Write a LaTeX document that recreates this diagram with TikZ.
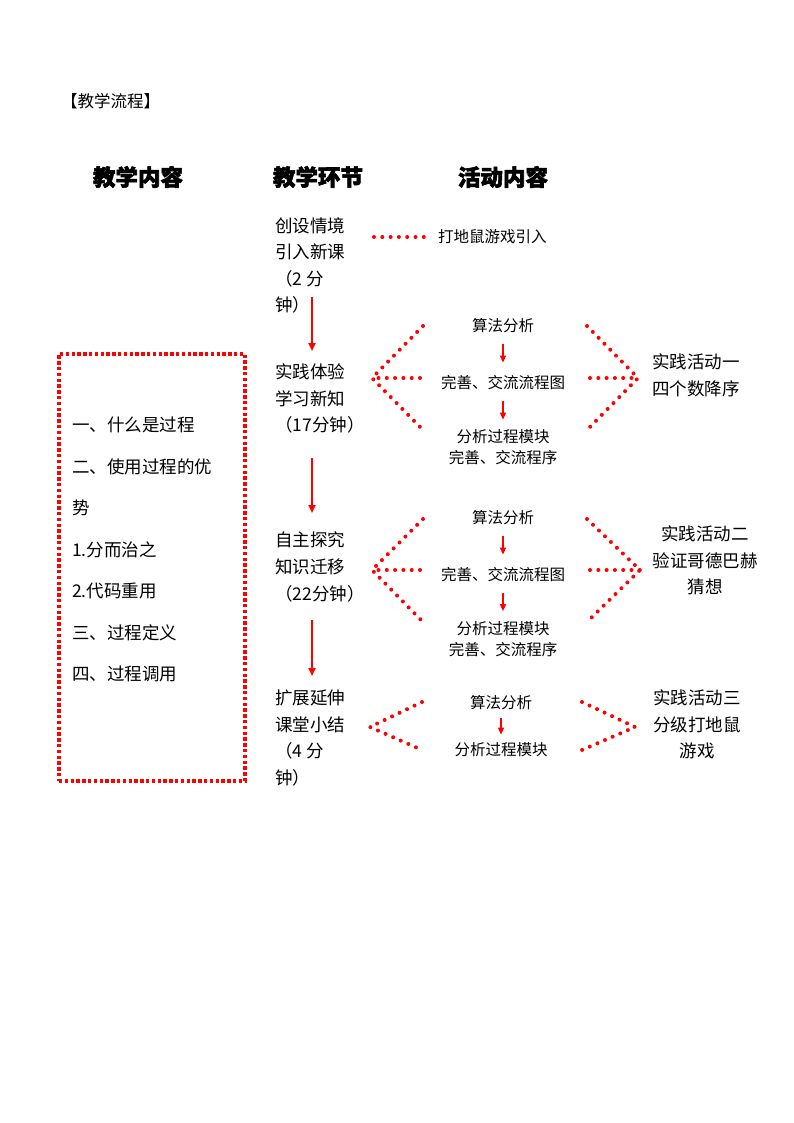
\documentclass[tikz,border=0pt]{standalone}
\usepackage{fontspec}
\newfontfamily\cjk{Noto Sans CJK SC}
\newfontfamily\cjkb{Noto Sans CJK SC}[FakeBold=2.5]
\usetikzlibrary{arrows.meta}
\begin{document}
\begin{tikzpicture}[x=1pt,y=-1pt,
  title/.style={font=\cjk\fontsize{16.5}{18}\selectfont, inner sep=0, anchor=west},
  head/.style={font=\cjkb\bfseries\fontsize{22.5}{26}\selectfont, inner sep=0},
  txt/.style={font=\cjk\fontsize{17.5}{26.6}\selectfont, inner sep=0, align=left, anchor=west},
  boxtxt/.style={font=\cjk\fontsize{17.5}{41.5}\selectfont, inner sep=0, align=left, anchor=west},
  act/.style={font=\cjk\fontsize{15.5}{21}\selectfont, inner sep=0, align=center},
  res/.style={font=\cjk\fontsize{17.5}{26.5}\selectfont, inner sep=0, align=center},
  dots/.style={draw=red, line width=4pt, line cap=round, dash pattern=on 0pt off 8.3pt},
  sqdots/.style={draw=red, line width=3.6pt, dash pattern=on 3.4pt off 2.4pt},
  flow/.style={draw=red, line width=2pt, -{Triangle[width=7pt,length=8pt]}},
  sflow/.style={draw=red, line width=1.6pt, -{Triangle[width=6pt,length=7pt]}}]
\useasboundingbox (0,0) rectangle (794,1123);
\node[title] (t) at (61,101) {【教学流程】};
\node[head] (h1) at (138,177) {教学内容};
\node[head] (h2) at (318,177) {教学环节};
\node[head] (h3) at (503,177) {活动内容};

% left box
\node[sqdots, minimum width=186pt, minimum height=427pt, inner sep=0] (box) at (152,567.5) {};
\node[boxtxt] (bt) at (72,549.5) {一、什么是过程\\二、使用过程的优\\势\\1.分而治之\\2.代码重用\\三、过程定义\\四、过程调用};

% stages
\node[txt] (s1) at (275,265.5) {创设情境\\引入新课\\（2 分\\钟）};
\node[txt] (s2) at (275,398.5) {实践体验\\学习新知\\（17分钟）};
\node[txt] (s3) at (275,567) {自主探究\\知识迁移\\（22分钟）};
\node[txt] (s4) at (275,738) {扩展延伸\\课堂小结\\（4 分\\钟）};

\coordinate (a1s) at (312,297); \coordinate (a1e) at (312,351);
\coordinate (a2s) at (312,458); \coordinate (a2e) at (312,513);
\coordinate (a3s) at (312,620); \coordinate (a3e) at (312,676);
\draw[flow] (a1s) -- (a1e);
\draw[flow] (a2s) -- (a2e);
\draw[flow] (a3s) -- (a3e);

% section 1 activity
\node[act, anchor=west] (c1) at (438,237) {打地鼠游戏引入};
\coordinate (d1) at (374,237);
\draw[dots] (d1) -- ([xshift=-12pt]c1.west);

% section 2
\node[act] (c2a) at (503,326) {算法分析};
\node[act] (c2b) at (503,383) {完善、交流流程图};
\node[act] (c2c) at (503,447.5) {分析过程模块\\完善、交流程序};
\draw[sflow] ([yshift=-11pt]c2a.south) -- ([yshift=13pt]c2b.north);
\draw[sflow] ([yshift=-11pt]c2b.south) -- ([yshift=10pt]c2c.north);
\coordinate (l2t) at (372,378); \coordinate (l2u) at (423,326); \coordinate (l2d) at (423,430); \coordinate (l2m) at (420,378);
\coordinate (r2t) at (638,378); \coordinate (r2u) at (587,326); \coordinate (r2d) at (587,430); \coordinate (r2m) at (590,378);
\draw[dots] (l2u) -- (l2t) -- (l2d);
\draw[dots] (l2m) -- (l2t);
\draw[dots] (r2u) -- (r2t) -- (r2d);
\draw[dots] (r2m) -- (r2t);
\node[res] (r2) at (696,375.5) {实践活动一\\四个数降序};

% section 3
\node[act] (c3a) at (503,518) {算法分析};
\node[act] (c3b) at (503,575) {完善、交流流程图};
\node[act] (c3c) at (503,639) {分析过程模块\\完善、交流程序};
\draw[sflow] ([yshift=-11pt]c3a.south) -- ([yshift=13pt]c3b.north);
\draw[sflow] ([yshift=-11pt]c3b.south) -- ([yshift=10pt]c3c.north);
\coordinate (l3t) at (372,570); \coordinate (l3u) at (423,519); \coordinate (l3d) at (423,622); \coordinate (l3m) at (420,570);
\coordinate (r3t) at (640,570); \coordinate (r3u) at (587,519); \coordinate (r3d) at (587,622); \coordinate (r3m) at (590,570);
\draw[dots] (l3u) -- (l3t) -- (l3d);
\draw[dots] (l3m) -- (l3t);
\draw[dots] (r3u) -- (r3t) -- (r3d);
\draw[dots] (r3m) -- (r3t);
\node[res] (r3) at (705,560.5) {实践活动二\\验证哥德巴赫\\猜想};

% section 4
\node[act] (c4a) at (501,703) {算法分析};
\node[act] (c4b) at (501,750) {分析过程模块};
\draw[sflow] ([yshift=-8pt]c4a.south) -- ([yshift=8pt]c4b.north);
\coordinate (l4t) at (370,727); \coordinate (l4u) at (422,702); \coordinate (l4d) at (422,750);
\coordinate (r4t) at (635,727); \coordinate (r4u) at (582,702); \coordinate (r4d) at (582,750);
\draw[dots] (l4u) -- (l4t) -- (l4d);
\draw[dots] (r4u) -- (r4t) -- (r4d);
\node[res] (r4) at (697,724.5) {实践活动三\\分级打地鼠\\游戏};
\end{tikzpicture}
\end{document}
